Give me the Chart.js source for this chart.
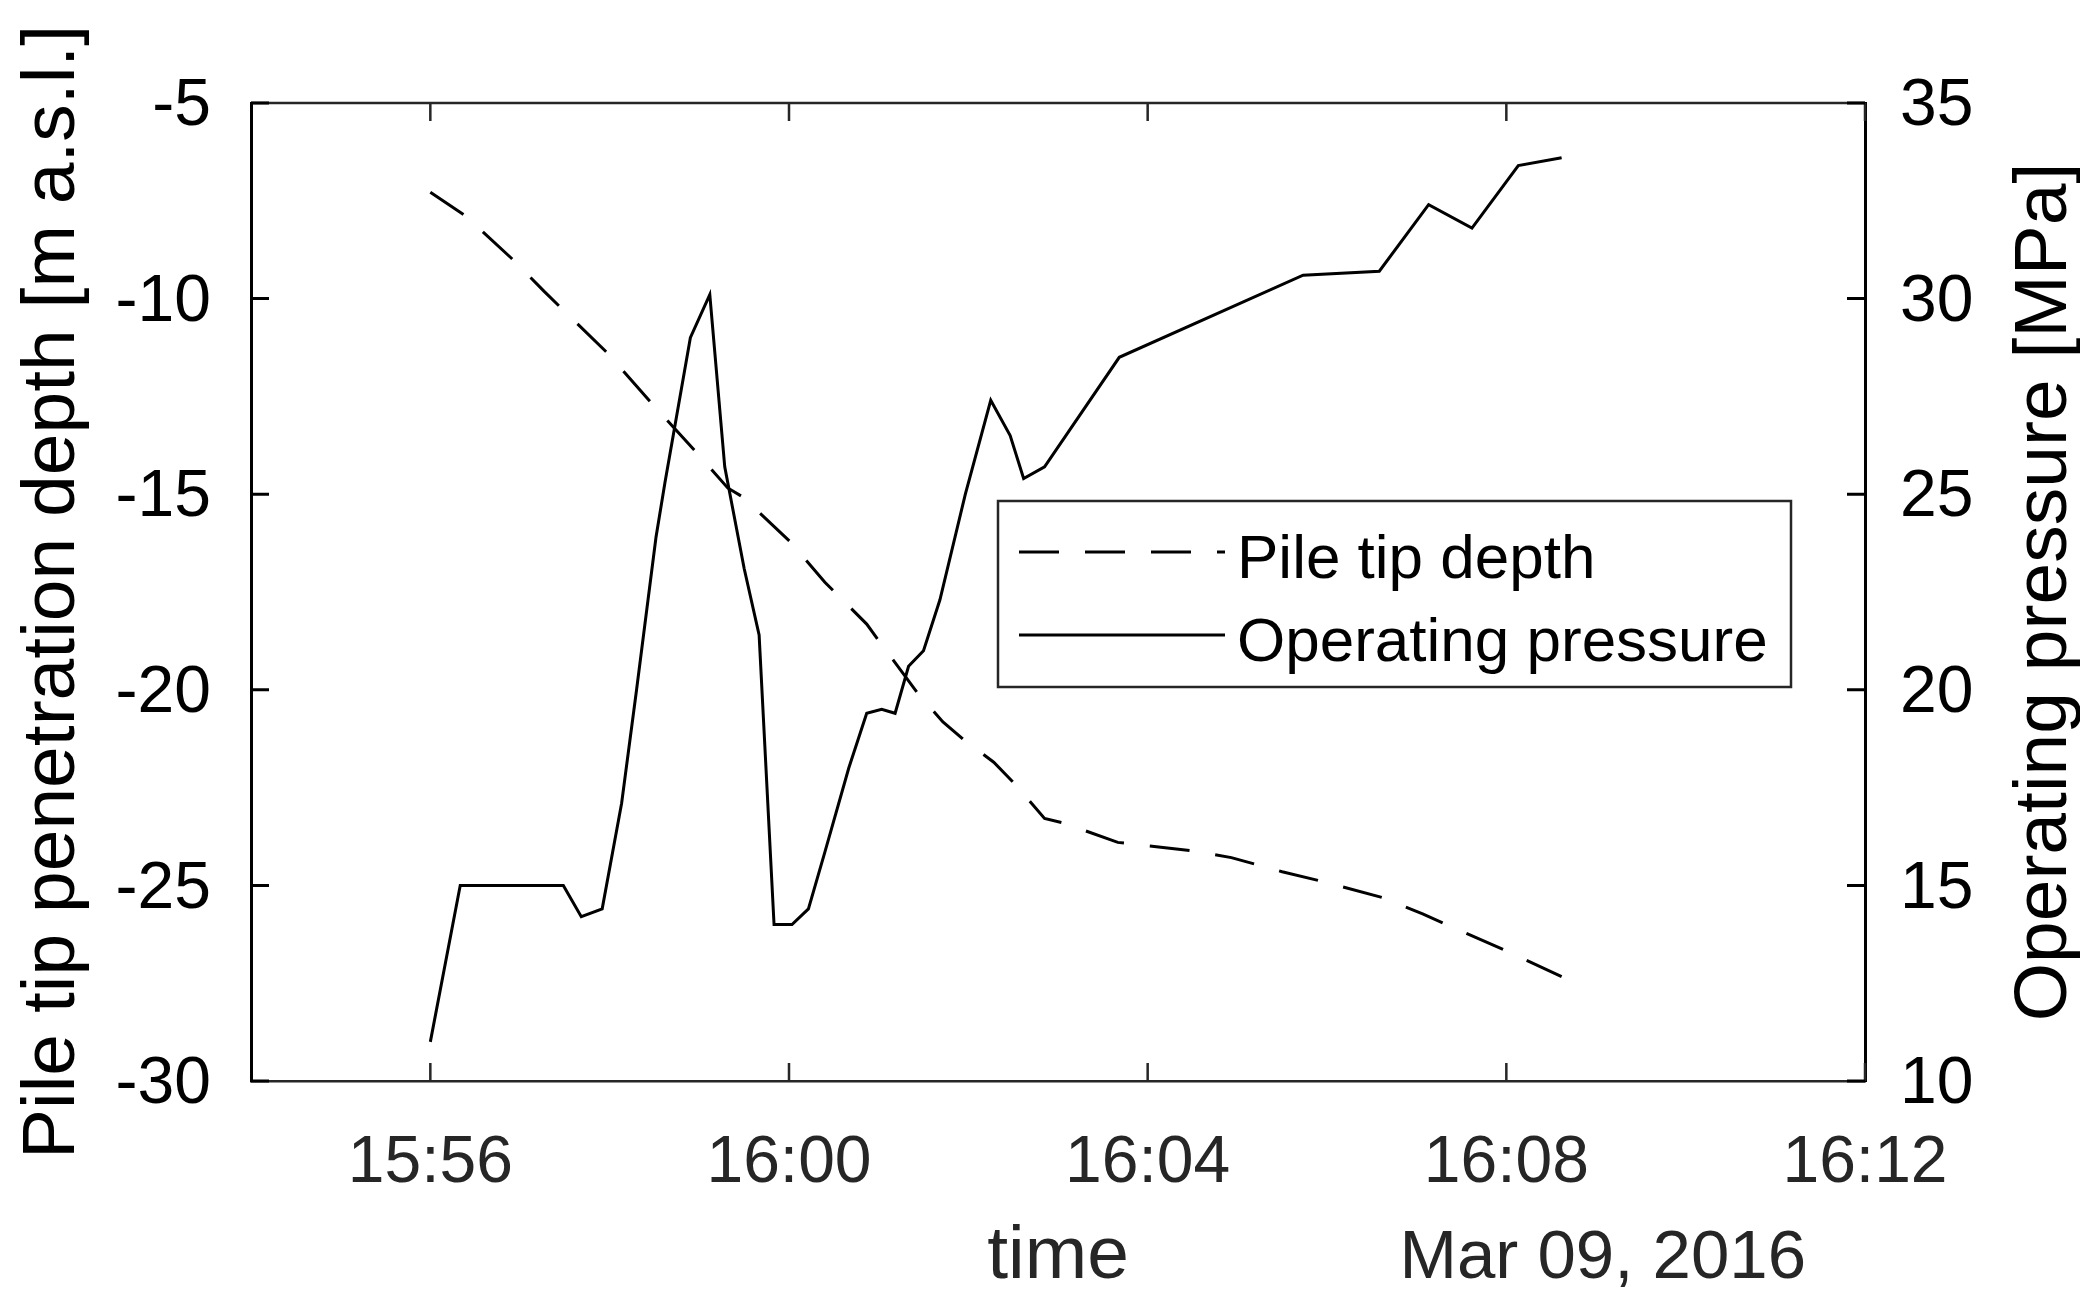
<!DOCTYPE html>
<html>
<head>
<meta charset="utf-8">
<title>Pile tip depth and operating pressure</title>
<script src="https://cdn.jsdelivr.net/npm/chart.js@4/dist/chart.umd.min.js"></script>
<style>
  html, body { margin: 0; padding: 0; background: #fff; }
  canvas { display: block; }
</style>
</head>
<body>
<canvas id="pileChart" width="2080" height="1307"></canvas>
<script>
// pile tip depth [m a.s.l.]
const depthTime = ['15:56:00', '15:56:24', '15:56:56', '15:57:16', '15:57:59', '15:58:28', '15:58:58',
    '15:59:19', '15:59:29', '16:00:01', '16:00:24', '16:00:52', '16:01:00', '16:01:26', '16:01:43',
    '16:01:58', '16:02:17', '16:02:31', '16:02:51', '16:03:04', '16:03:40', '16:04:31', '16:04:56',
    '16:05:30', '16:05:58', '16:06:38', '16:07:04', '16:07:20', '16:08:01', '16:08:37'];
const depthValues = [-7.28, -7.90, -9.03, -9.81, -11.41, -12.67, -13.93, -14.84, -15.07, -16.22,
    -17.25, -18.32, -18.74, -20.08, -20.82, -21.31, -21.85, -22.40, -23.29, -23.41, -23.90, -24.12,
    -24.29, -24.65, -24.91, -25.32, -25.73, -26.00, -26.69, -27.33];

// operating pressure [MPa]
const pressureTime = ['15:56:00', '15:56:20', '15:57:29', '15:57:41', '15:57:55', '15:58:08', '15:58:18',
    '15:58:31', '15:58:37', '15:58:54', '15:59:07', '15:59:17', '15:59:30', '15:59:40', '15:59:50',
    '16:00:02', '16:00:13', '16:00:24', '16:00:40', '16:00:52', '16:01:02', '16:01:11', '16:01:20',
    '16:01:30', '16:01:41', '16:01:58', '16:02:15', '16:02:28', '16:02:37', '16:02:51', '16:03:41',
    '16:05:44', '16:06:35', '16:07:08', '16:07:37', '16:08:08', '16:08:37'];
const pressureValues = [11.0, 15.0, 15.0, 14.2, 14.4, 17.1, 20.0, 23.9, 25.3, 29.0, 30.1, 25.7, 23.1,
    21.4, 14.0, 14.0, 14.4, 15.85, 18.0, 19.4, 19.5, 19.4, 20.6, 21.0, 22.3, 25.0, 27.4, 26.5, 25.4,
    25.7, 28.5, 30.6, 30.7, 32.4, 31.8, 33.4, 33.6];

const timeTicks = ['15:56', '16:00', '16:04', '16:08', '16:12'];
const timeRange = ['15:54', '16:12'];
const dateLabel = 'Mar 09, 2016';
const rightTitle = 'Operating pressure [MPa]';

const FONT = '"Liberation Sans", Arial, Helvetica, sans-serif';
const AX = '#262626';

// "hh:mm[:ss]" -> minutes since midnight
const toMin = s => {
    const p = s.split(':').map(Number);
    return p[0] * 60 + p[1] + (p[2] || 0) / 60;
};
const fmtTime = v => {
    const h = Math.floor(v / 60);
    const m = Math.round(v - h * 60);
    return h + ':' + String(m).padStart(2, '0');
};

// MATLAB look: inward ticks, top border, boxed legend, date stamp, right label read upwards
const matlabBox = {
    id: 'matlabBox',
    afterDraw(chart) {
        const { ctx, chartArea: a, scales } = chart;
        const tl = 18;
        ctx.save();

        ctx.strokeStyle = AX;
        ctx.lineWidth = 2.5;
        ctx.beginPath();
        ctx.moveTo(a.left, a.top);
        ctx.lineTo(a.right, a.top);
        scales.x.ticks.forEach(t => {
            const px = scales.x.getPixelForValue(t.value);
            ctx.moveTo(px, a.bottom);
            ctx.lineTo(px, a.bottom - tl);
            ctx.moveTo(px, a.top);
            ctx.lineTo(px, a.top + tl);
        });
        ctx.stroke();

        ctx.strokeStyle = '#000';
        ctx.lineWidth = 3;
        ctx.beginPath();
        scales.y.ticks.forEach(t => {
            const py = scales.y.getPixelForValue(t.value);
            ctx.moveTo(a.left, py);
            ctx.lineTo(a.left + tl, py);
        });
        scales.y1.ticks.forEach(t => {
            const py = scales.y1.getPixelForValue(t.value);
            ctx.moveTo(a.right, py);
            ctx.lineTo(a.right - tl, py);
        });
        ctx.stroke();

        // legend box
        const bx = a.left + 747, by = a.top + 398, bw = 793, bh = 186;
        ctx.fillStyle = '#fff';
        ctx.fillRect(bx, by, bw, bh);
        ctx.strokeStyle = AX;
        ctx.lineWidth = 2.5;
        ctx.strokeRect(bx, by, bw, bh);
        ctx.font = '62px ' + FONT;
        ctx.textAlign = 'left';
        ctx.textBaseline = 'alphabetic';
        chart.data.datasets.forEach((ds, i) => {
            const ly = by + 51 + i * 83;
            ctx.strokeStyle = ds.borderColor;
            ctx.lineWidth = ds.borderWidth;
            ctx.setLineDash(ds.borderDash || []);
            ctx.beginPath();
            ctx.moveTo(bx + 21, ly);
            ctx.lineTo(bx + 227, ly);
            ctx.stroke();
            ctx.setLineDash([]);
            ctx.fillStyle = '#000';
            ctx.fillText(ds.label, bx + 239, ly + 26);
        });

        // date stamp under the time axis
        ctx.font = '69px ' + FONT;
        ctx.fillStyle = AX;
        ctx.textAlign = 'right';
        ctx.fillText(dateLabel, a.right - 59, 1278);

        // right axis title, rotated like the left one
        ctx.font = '75px ' + FONT;
        ctx.fillStyle = '#000';
        ctx.textAlign = 'center';
        ctx.translate(scales.y1.right - 14, (a.top + a.bottom) / 2);
        ctx.rotate(-Math.PI / 2);
        ctx.fillText(rightTitle, 0, 0);
        ctx.restore();
    }
};

const ctx = document.getElementById('pileChart').getContext('2d');
new Chart(ctx, {
    type: 'line',
    data: {
        datasets: [
            {
                label: 'Pile tip depth',
                data: depthTime.map((t, i) => ({ x: toMin(t), y: depthValues[i] })),
                yAxisID: 'y',
                borderColor: '#000',
                borderWidth: 3,
                borderDash: [40, 26],
                pointRadius: 0,
                tension: 0,
                fill: false
            },
            {
                label: 'Operating pressure',
                data: pressureTime.map((t, i) => ({ x: toMin(t), y: pressureValues[i] })),
                yAxisID: 'y1',
                borderColor: '#000',
                borderWidth: 3,
                pointRadius: 0,
                tension: 0,
                fill: false
            }
        ]
    },
    options: {
        responsive: false,
        devicePixelRatio: 1,
        animation: false,
        events: [],
        layout: { padding: { top: 103, left: 0, right: 0, bottom: 0 } },
        scales: {
            x: {
                type: 'linear',
                position: 'bottom',
                min: toMin(timeRange[0]),
                max: toMin(timeRange[1]),
                afterBuildTicks: scale => {
                    scale.ticks = timeTicks.map(t => ({ value: toMin(t) }));
                },
                afterFit: scale => { scale.height = 226; },
                grid: { display: false },
                border: { display: true, color: AX, width: 2.5 },
                ticks: {
                    callback: v => fmtTime(v),
                    color: AX,
                    font: { family: FONT, size: 66 },
                    padding: 35,
                    maxRotation: 0,
                    autoSkip: false
                },
                title: {
                    display: true,
                    text: 'time',
                    color: AX,
                    font: { family: FONT, size: 75, lineHeight: 1 },
                    padding: { top: 0, bottom: 12 }
                }
            },
            y: {
                position: 'left',
                min: -30,
                max: -5,
                afterFit: scale => { scale.width = 251; },
                grid: { display: false },
                border: { display: true, color: '#000', width: 3 },
                ticks: {
                    stepSize: 5,
                    color: '#000',
                    font: { family: FONT, size: 66 },
                    padding: 32,
                    labelOffset: 4
                },
                title: {
                    display: true,
                    text: 'Pile tip penetration depth [m a.s.l.]',
                    color: '#000',
                    font: { family: FONT, size: 75, lineHeight: 1 },
                    padding: { top: 16, bottom: 0 }
                }
            },
            y1: {
                position: 'right',
                min: 10,
                max: 35,
                afterFit: scale => { scale.width = 215; },
                grid: { display: false },
                border: { display: true, color: '#000', width: 3 },
                ticks: {
                    stepSize: 5,
                    color: '#000',
                    font: { family: FONT, size: 66 },
                    padding: 27,
                    labelOffset: 4
                }
            }
        },
        plugins: {
            legend: { display: false },
            tooltip: { enabled: false }
        }
    },
    plugins: [matlabBox]
});
</script>
</body>
</html>
